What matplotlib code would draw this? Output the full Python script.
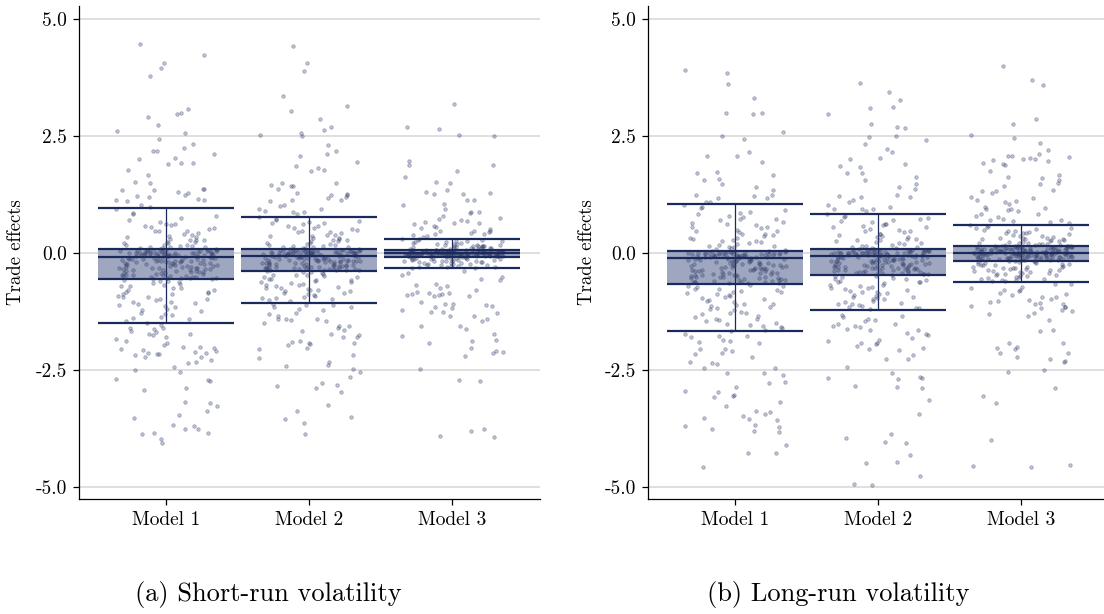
import numpy as np
import matplotlib
matplotlib.use('Agg')
import matplotlib.pyplot as plt
from matplotlib.ticker import FormatStrFormatter

# computer-modern look, hyphen minus like the original
plt.rcParams['font.family'] = 'serif'
plt.rcParams['font.serif'] = ['cmr10', 'DejaVu Serif']
plt.rcParams['axes.unicode_minus'] = False

# ---------------- data ----------------
models = ['Model 1', 'Model 2', 'Model 3']
captions = ['(a) Short-run volatility', '(b) Long-run volatility']
y_label = 'Trade effects'
y_ticks = [-5.0, -2.5, 0.0, 2.5, 5.0]

# summary lines: lower cap, box bottom, median, box top, upper cap
short_whisk_lo = [-1.50, -1.06, -0.32]
short_box_lo = [-0.56, -0.38, -0.08]
short_median = [-0.08, -0.06, -0.01]
short_box_hi = [0.08, 0.09, 0.06]
short_whisk_hi = [0.97, 0.78, 0.30]

long_whisk_lo = [-1.67, -1.22, -0.61]
long_box_lo = [-0.66, -0.46, -0.17]
long_median = [-0.10, -0.07, 0.01]
long_box_hi = [0.05, 0.08, 0.16]
long_whisk_hi = [1.05, 0.84, 0.60]

# individual trade effects (estimated)
short_m1 = [
    0.94, 0.86, 0.83, 0.79, 0.74, 0.70, 0.67, 0.62, 0.59, 0.55, 0.53, 0.48, 0.46, 0.42, 0.39, 0.37,
    0.34, 0.30, 0.28, 0.27, 0.24, 0.22, 0.21, 0.18, 0.17, 0.15, 0.14, 0.13, 0.12, 0.10, 0.09, 0.11,
    0.07, 0.08, 0.06, 0.05, 0.06, 0.04, 0.03, 0.02, 0.03, 0.01, 0.02, 0.00, 0.01, -0.01, 0.00, -0.02,
    -0.01, -0.03, -0.02, -0.04, -0.03, -0.05, -0.04, -0.06, -0.05, -0.07, -0.06, -0.07, 0.04, -0.02, 0.05, -0.04,
    -0.09, -0.10, -0.12, -0.11, -0.14, -0.13, -0.16, -0.17, -0.19, -0.18, -0.21, -0.23, -0.24, -0.26, -0.28, -0.30,
    -0.31, -0.33, -0.35, -0.36, -0.38, -0.41, -0.42, -0.44, -0.46, -0.47, -0.49, -0.51, -0.52, -0.54, -0.55, -0.53,
    -0.15, -0.22, -0.58, -0.60, -0.63, -0.67, -0.69, -0.71, -0.75, -0.78, -0.80, -0.84, -0.86, -0.88, -0.92, -0.94,
    -0.98, -1.00, -1.04, -1.06, -1.10, -1.13, -1.15, -1.19, -1.22, -1.24, -1.28, -1.30, -1.33, -1.37, -1.39, -1.42,
    -1.46, -1.49,
    0.07, 0.05, 0.04, 0.01, -0.01, -0.02, -0.05, -0.07, -0.08, -0.11, -0.12, -0.15, -0.18, -0.19, -0.21, -0.24,
    -0.25, -0.27, -0.30, -0.31, -0.33, -0.36, -0.37, -0.40, -0.41, -0.43, -0.46, -0.48, -0.49, -0.52, -0.53, -0.55,
    0.06, 0.03, -0.03, -0.06, -0.10, -0.14, -0.17, -0.22, -0.26, -0.29, -0.34, -0.38, -0.42, -0.45, -0.50, -0.54,
    0.04, 0.00, -0.04, -0.09, -0.13, -0.16, -0.20, -0.23, -0.28, -0.32, -0.35, -0.39, 0.13, 0.17, 0.24, 0.28,
    0.35, 0.40, 0.47, 0.51, 0.58, 0.63, -0.59, -0.64, -0.71, -0.75, -0.83, -0.87, -0.93, -0.98, -1.05, -1.11,
    3.78, 4.07, 3.95, 4.47, 4.24, 2.91, 2.96, 3.08, 2.99, 2.73, 2.61, 2.44, 2.56, 2.34, 2.24, 2.17,
    2.12, 2.19, 2.02, 1.92, 1.91, 2.01, 1.93, 1.77, 1.66, 1.50, 1.52, 1.37, 1.34, 1.28, 1.13, 1.36,
    1.25, 1.20, 1.16, 1.12, 1.03, 1.22, 1.14, 1.30, 1.35, 0.99,
    -1.54, -1.63, -1.61, -1.72, -1.66, -1.68, -1.60, -1.75, -1.88, -2.00, -2.05, -2.07, -2.14, -2.17, -2.13, -2.16,
    -2.11, -2.04, -2.09, -2.01, -1.93, -1.84, -1.72, -1.79, -1.96, -2.23, -2.29, -2.15, -2.34, -2.22, -2.32, -2.43,
    -2.51, -2.54, -2.71, -2.70, -2.74, -2.89, -2.93, -3.18, -3.21, -3.26, -3.37, -3.46, -3.53, -3.67, -3.70, -3.75,
    -3.76, -3.85, -3.84, -3.87, -3.98, -4.05,
]
short_m2 = [
    0.77, 0.73, 0.71, 0.68, 0.65, 0.64, 0.61, 0.57, 0.54, 0.53, 0.49, 0.46, 0.44, 0.43, 0.39, 0.37,
    0.36, 0.32, 0.30, 0.28, 0.26, 0.25, 0.22, 0.20, 0.19, 0.17, 0.16, 0.14, 0.13, 0.12, 0.11, 0.10,
    0.08, 0.09, 0.07, 0.06, 0.07, 0.05, 0.06, 0.04, 0.03, 0.04, 0.02, 0.03, 0.01, 0.02, 0.00, 0.01,
    -0.00, -0.01, -0.02, -0.01, -0.03, -0.02, -0.04, -0.03, -0.05, -0.04, -0.05, -0.06, 0.05, 0.01, -0.03, 0.07,
    -0.01, 0.02, -0.07, -0.08, -0.09, -0.08, -0.10, -0.11, -0.12, -0.13, -0.15, -0.14, -0.16, -0.18, -0.17, -0.19,
    -0.21, -0.20, -0.22, -0.24, -0.23, -0.25, -0.27, -0.28, -0.29, -0.30, -0.32, -0.31, -0.33, -0.35, -0.34, -0.36,
    -0.37, -0.11, -0.39, -0.40, -0.43, -0.44, -0.47, -0.48, -0.50, -0.52, -0.55, -0.56, -0.58, -0.60, -0.62, -0.65,
    -0.66, -0.68, -0.70, -0.73, -0.74, -0.76, -0.79, -0.80, -0.82, -0.85, -0.86, -0.88, -0.91, -0.93, -0.96, -0.98,
    -1.01, -1.03,
    0.08, 0.06, 0.05, 0.03, 0.02, 0.00, -0.01, -0.03, -0.04, -0.06, -0.07, -0.09, -0.10, -0.12, -0.13, -0.15,
    -0.16, -0.18, -0.19, -0.21, -0.22, -0.24, -0.25, -0.27, -0.28, -0.30, -0.31, -0.33, -0.34, -0.36, -0.37, 0.07,
    0.04, 0.01, -0.02, -0.05, -0.08, -0.11, -0.14, -0.17, -0.20, -0.23, -0.26, -0.29, -0.32, -0.35, 0.05, 0.02,
    -0.01, -0.04, -0.07, -0.12, -0.18, -0.24, -0.30, -0.36, 0.03, -0.06, -0.15, -0.27, 0.12, 0.18, 0.22, 0.27,
    0.33, 0.38, 0.45, 0.51, 0.58, 0.66, -0.41, -0.46, -0.52, -0.57, -0.63, -0.69, -0.75, -0.82, -0.89, -0.97,
    4.43, 4.05, 3.89, 3.36, 3.14, 3.03, 2.86, 2.69, 2.63, 2.56, 2.52, 2.51, 2.30, 2.19, 2.11, 2.07,
    1.94, 1.86, 1.82, 1.77, 1.76, 1.50, 1.49, 1.46, 1.44, 1.43, 1.37, 1.27, 1.28, 1.25, 1.23, 1.20,
    1.18, 1.14, 1.13, 1.11, 1.02, 1.00, 0.95, 0.93, 0.90, 0.88, 0.87, 0.84,
    -1.08, -1.12, -1.15, -1.20, -1.11, -1.29, -1.31, -1.45, -1.49, -1.40, -1.43, -1.41, -1.55, -1.66, -1.61, -1.79,
    -1.75, -1.80, -1.95, -2.05, -1.91, -1.93, -2.04, -1.97, -1.92, -1.88, -1.74, -1.65, -1.57, -1.42, -1.35, -1.22,
    -1.15, -2.25, -2.17, -2.32, -2.41, -2.40, -2.47, -2.54, -2.64, -2.77, -2.84, -2.89, -2.83, -2.98, -3.25, -3.38,
    -3.51, -3.54, -3.63, -3.87,
]
short_m3 = [
    0.30, 0.29, 0.28, 0.26, 0.25, 0.24, 0.23, 0.22, 0.20, 0.19, 0.18, 0.17, 0.16, 0.16, 0.15, 0.14,
    0.13, 0.12, 0.12, 0.11, 0.10, 0.10, 0.09, 0.09, 0.08, 0.08, 0.07, 0.07,
    0.06, 0.06, 0.05, 0.05, 0.05, 0.04, 0.04, 0.04, 0.03, 0.03, 0.03, 0.03, 0.02, 0.02, 0.02, 0.02,
    0.01, 0.01, 0.01, 0.01, 0.00, 0.00, 0.00, 0.00, 0.00, -0.00, -0.01, -0.01, -0.01, -0.01, -0.01, -0.02,
    -0.02, -0.02, -0.02, -0.03, -0.03, -0.03, -0.03, -0.04, -0.04, -0.04, -0.05, -0.05, -0.05, -0.06, -0.06, -0.06,
    -0.07, -0.07, -0.07, 0.05, 0.03, 0.01, -0.02, -0.04, 0.02, 0.00, -0.01, -0.03, 0.04, -0.05, 0.01, -0.00,
    0.03, -0.02, -0.06, 0.02, -0.03, 0.00,
    -0.08, -0.09, -0.09, -0.10, -0.10, -0.11, -0.12, -0.12, -0.13, -0.14, -0.14, -0.15, -0.16, -0.17, -0.17, -0.18,
    -0.19, -0.20, -0.21, -0.21, -0.22, -0.23, -0.24, -0.25, -0.26, -0.27, -0.28, -0.29, -0.30, -0.31, -0.32, -0.11,
    0.06, 0.05, 0.05, 0.04, 0.04, 0.03, 0.03, 0.02, 0.02, 0.01, 0.01, 0.00, 0.00, -0.01, -0.01, -0.02,
    -0.02, -0.03, -0.03, -0.04, -0.04, -0.05, -0.05, -0.06, -0.06, -0.07, -0.07, 0.05, 0.03, 0.01, -0.01, -0.03,
    -0.05, -0.07, 0.04, 0.02, 0.00, -0.02, -0.04, -0.06, 0.06, 0.01, -0.03, -0.08, 0.03, -0.01, -0.05, 0.02,
    -0.02, -0.06, 0.09, 0.11, 0.14, 0.17, 0.19, 0.22, 0.25, 0.28, 0.10, 0.15, -0.10, -0.12, -0.15, -0.18,
    -0.20, -0.23, -0.26, -0.29, -0.13, -0.17,
    3.19, 2.66, 2.69, 2.53, 2.51, 1.97, 1.89, 1.87, 1.75, 1.62, 1.51, 1.50, 1.34, 1.30, 1.29, 1.27,
    1.26, 1.14, 1.13, 1.04, 1.02, 0.95, 0.88, 0.87, 0.86, 0.80, 0.75, 0.72, 0.70, 0.68, 0.65, 0.66,
    0.64, 0.61, 0.58, 0.56, 0.53, 0.52, 0.48, 0.47, 0.46, 0.44, 0.43, 0.41, 0.40, 0.38, 0.36, 0.34,
    -0.46, -0.38, -0.43, -0.66, -0.71, -0.74, -0.69, -0.78, -0.83, -0.87, -0.86, -0.90, -0.88, -0.91, -0.89, -0.85,
    -0.92, -1.05, -1.14, -1.10, -0.55, -0.58, -0.51, -1.11, -1.08, -1.22, -1.15, -1.18, -1.34, -1.27, -1.29, -1.25,
    -1.35, -1.41, -1.45, -1.57, -1.55, -1.63, -1.74, -1.77, -1.86, -1.89, -1.93, -2.04, -2.09, -2.12, -2.14, -2.19,
    -2.47, -2.72, -2.74, -3.75, -3.80, -3.90, -3.94,
]
long_m1 = [
    1.03, 0.99, 0.96, 0.91, 0.88, 0.84, 0.80, 0.77, 0.72, 0.70, 0.66, 0.63, 0.59, 0.56, 0.54, 0.50,
    0.47, 0.44, 0.41, 0.39, 0.36, 0.33, 0.30, 0.28, 0.25, 0.23, 0.21, 0.18, 0.16, 0.14, 0.12, 0.10,
    0.08, 0.07,
    0.05, 0.04, 0.04, 0.03, 0.02, 0.02, 0.01, 0.00, 0.00, -0.01, -0.01, -0.02, -0.03, -0.03, -0.04, -0.04,
    -0.05, -0.05, -0.06, -0.06, -0.07, -0.07, -0.08, -0.08, -0.09, -0.09, 0.03, -0.02, 0.01, -0.05, -0.03, -0.07,
    -0.11, -0.12, -0.14, -0.15, -0.17, -0.18, -0.20, -0.21, -0.23, -0.24, -0.26, -0.28, -0.29, -0.31, -0.32, -0.34,
    -0.36, -0.37, -0.39, -0.41, -0.42, -0.44, -0.46, -0.47, -0.49, -0.51, -0.52, -0.54, -0.56, -0.57, -0.59, -0.61,
    -0.62, -0.64, -0.65, -0.13, -0.25, -0.38,
    -0.68, -0.71, -0.73, -0.76, -0.79, -0.82, -0.85, -0.87, -0.90, -0.93, -0.96, -0.99, -1.02, -1.05, -1.08, -1.11,
    -1.13, -1.16, -1.19, -1.22, -1.25, -1.28, -1.31, -1.34, -1.37, -1.40, -1.43, -1.46, -1.49, -1.52, -1.55, -1.58,
    -1.61, -1.64, -1.66, -0.83,
    0.04, 0.02, 0.01, -0.01, -0.03, -0.05, -0.06, -0.08, -0.10, -0.12, -0.14, -0.17, -0.19, -0.21, -0.23, -0.26,
    -0.28, -0.30, -0.33, -0.35, -0.37, -0.40, -0.42, -0.44, -0.47, -0.49, -0.51, -0.54, -0.56, -0.58, -0.61, -0.63,
    -0.65, 0.03, -0.02, -0.07, -0.11, -0.16, -0.20, -0.25, -0.29, -0.34, -0.38, -0.43, -0.48, -0.52, -0.57, -0.62,
    0.00, -0.04, -0.09, -0.13, -0.18, -0.24, -0.31, -0.36, -0.45, -0.53, -0.60, 0.12, 0.19, 0.26, 0.33, 0.41,
    0.48, 0.56, 0.64, 0.73, 0.85, -0.70, -0.77, -0.84, -0.91, -1.00, -1.09, -1.18, -1.29, -1.40, -1.53,
    3.85, 3.90, 3.62, 3.31, 3.00, 2.96, 2.99, 2.59, 2.49, 2.44, 2.16, 2.07, 2.08, 1.94, 1.72, 1.73,
    1.59, 1.55, 1.67, 1.48, 1.41, 1.35, 1.23, 1.22, 1.18, 1.17, 1.25, 1.08, 1.09,
    -1.72, -1.77, -1.80, -1.78, -1.89, -1.85, -1.90, -1.93, -2.05, -2.06, -2.10, -2.13, -2.16, -2.23, -2.33, -2.34,
    -2.37, -2.46, -2.45, -2.56, -2.57, -2.61, -2.75, -2.78, -2.87, -2.94, -2.98, -3.03, -3.05, -3.08, -3.18, -3.27,
    -3.37, -3.39, -3.43, -3.48, -3.52, -3.54, -3.57, -3.69, -3.71, -3.68, -3.75, -3.81, -3.82, -4.10, -4.27, -4.28,
    -4.58,
]
long_m2 = [
    0.83, 0.80, 0.77, 0.74, 0.71, 0.69, 0.66, 0.63, 0.60, 0.57, 0.55, 0.52, 0.49, 0.46, 0.44, 0.41,
    0.39, 0.36, 0.34, 0.31, 0.29, 0.27, 0.25, 0.23, 0.21, 0.19, 0.17, 0.15, 0.13, 0.12, 0.10, 0.09,
    0.08, 0.07, 0.07, 0.06, 0.05, 0.05, 0.04, 0.03, 0.03, 0.02, 0.01, 0.01, 0.00, -0.00, -0.01, -0.02,
    -0.02, -0.03, -0.03, -0.04, -0.05, -0.05, -0.06, -0.06, 0.06, 0.02, -0.01, 0.04, -0.04, 0.00, -0.02, 0.03,
    -0.05, 0.01,
    -0.08, -0.09, -0.10, -0.11, -0.12, -0.14, -0.15, -0.16, -0.17, -0.19, -0.20, -0.21, -0.23, -0.24, -0.25, -0.26,
    -0.28, -0.29, -0.30, -0.32, -0.33, -0.34, -0.36, -0.37, -0.38, -0.40, -0.41, -0.42, -0.44, -0.45, -0.09, -0.13,
    -0.18, -0.22, -0.27,
    -0.48, -0.50, -0.52, -0.54, -0.57, -0.59, -0.61, -0.63, -0.65, -0.68, -0.70, -0.72, -0.74, -0.77, -0.79, -0.81,
    -0.83, -0.86, -0.88, -0.90, -0.93, -0.95, -0.97, -0.99, -1.02, -1.04, -1.06, -1.09, -1.11, -1.13, -1.16, -1.18,
    -1.20, -0.55,
    0.07, 0.06, 0.04, 0.03, 0.01, -0.00, -0.02, -0.04, -0.05, -0.07, -0.09, -0.10, -0.12, -0.14, -0.16, -0.18,
    -0.19, -0.21, -0.23, -0.25, -0.27, -0.29, -0.31, -0.33, -0.35, -0.37, -0.39, -0.41, -0.43, -0.45, 0.05, 0.02,
    -0.01, -0.03, -0.06, -0.08, -0.11, -0.15, -0.20, -0.24, -0.28, -0.32, -0.36, -0.40, -0.44, 0.06, 0.00, -0.04,
    -0.13, -0.17, -0.22, -0.26, -0.30, -0.34, -0.38, -0.42, 0.03, -0.06, -0.11, -0.31, 0.11, 0.16, 0.21, 0.27,
    0.34, 0.40, 0.47, 0.55, 0.63, 0.72, -0.49, -0.55, -0.62, -0.68, -0.75, -0.83, -0.91, -0.99, -1.08, -1.17,
    3.63, 3.43, 3.28, 3.12, 3.10, 2.98, 2.75, 2.70, 2.68, 2.49, 2.48, 2.42, 2.32, 2.23, 2.15, 2.02,
    2.01, 1.91, 1.85, 1.84, 1.72, 1.70, 1.62, 1.55, 1.41, 1.48, 1.36, 1.25, 1.20, 1.19, 1.21, 1.13,
    1.08, 1.03, 0.98, 0.94, 0.95, 0.93, 0.90,
    -1.32, -1.34, -1.36, -1.40, -1.43, -1.45, -1.52, -1.51, -1.56, -1.57, -1.59, -1.63, -1.65, -1.64, -1.70, -1.74,
    -1.75, -1.81, -1.86, -1.88, -1.93, -1.92, -1.95, -1.98, -2.02, -2.05, -2.07, -2.18, -2.26, -2.27, -2.44, -2.57,
    -2.64, -2.66, -2.68, -2.70, -2.84, -2.86, -2.89, -3.14, -3.45, -3.87, -3.96, -4.03, -4.05, -4.31, -4.47, -4.49,
    -4.76, -4.94, -4.96,
]
long_m3 = [
    0.59, 0.57, 0.55, 0.53, 0.51, 0.49, 0.47, 0.45, 0.43, 0.42, 0.40, 0.38, 0.36, 0.35, 0.33, 0.32,
    0.30, 0.29, 0.27, 0.26, 0.25, 0.24, 0.22, 0.21, 0.20, 0.19, 0.18, 0.17, 0.17, 0.16,
    0.15, 0.15, 0.14, 0.14, 0.13, 0.13, 0.12, 0.12, 0.11, 0.11, 0.10, 0.10, 0.09, 0.09, 0.08, 0.08,
    0.07, 0.07, 0.06, 0.06, 0.05, 0.05, 0.04, 0.04, 0.03, 0.03, 0.02, 0.02, 0.01, 0.01, 0.00, 0.00,
    -0.01, -0.01, -0.02, -0.02, -0.03, -0.03, -0.04, -0.04, -0.05, -0.05, -0.06, -0.06, -0.07, -0.07, -0.08, -0.08,
    -0.09, -0.10, -0.10, -0.11, -0.12, -0.13, -0.14, -0.15, -0.16, 0.02, 0.05, -0.02, 0.08, -0.04, 0.11, 0.00,
    0.03, -0.06, 0.06, -0.09, 0.01, -0.03,
    -0.18, -0.19, -0.20, -0.21, -0.22, -0.24, -0.25, -0.26, -0.28, -0.29, -0.30, -0.32, -0.33, -0.34, -0.36, -0.37,
    -0.38, -0.40, -0.41, -0.43, -0.44, -0.46, -0.47, -0.49, -0.50, -0.52, -0.53, -0.55, -0.56, -0.58, -0.59, -0.60,
    -0.23, -0.31, -0.42,
    0.15, 0.14, 0.13, 0.12, 0.11, 0.10, 0.09, 0.08, 0.07, 0.06, 0.05, 0.04, 0.03, 0.02, 0.01, 0.00,
    -0.01, -0.02, -0.03, -0.04, -0.05, -0.06, -0.07, -0.08, -0.09, -0.10, -0.11, -0.12, -0.13, -0.14, -0.15, -0.16,
    0.13, 0.10, 0.07, 0.04, 0.01, -0.02, -0.05, -0.08, -0.11, -0.14, 0.12, 0.05, -0.01, -0.07, -0.13, 0.09,
    0.02, -0.04, -0.10, 0.06, -0.03, -0.09, 0.00, -0.06, 0.08, -0.12, 0.03, -0.15, 0.19, 0.23, 0.27, 0.32,
    0.37, 0.42, 0.48, 0.54, 0.21, 0.30, -0.20, -0.24, -0.29, -0.34, -0.39, -0.45, -0.51, -0.57, -0.26, -0.36,
    4.00, 3.69, 3.60, 2.86, 2.76, 2.52, 2.46, 2.36, 2.21, 2.12, 2.07, 2.06, 2.08, 2.04, 2.01, 2.00,
    1.99, 1.96, 1.93, 1.91, 1.88, 1.75, 1.67, 1.62, 1.61, 1.55, 1.50, 1.48, 1.44, 1.34, 1.32, 1.33,
    1.29, 1.20, 1.18, 1.13, 1.10, 1.11, 1.04, 0.98, 0.97, 0.95, 0.93, 0.90, 0.91, 0.84, 0.83, 0.80,
    0.77, 0.73, 0.71, 0.70, 0.68, 0.66, 0.64,
    -0.66, -0.67, -0.73, -0.74, -0.78, -0.80, -0.81, -0.85, -0.87, -0.90, -0.94, -0.95, -0.98, -1.01, -1.05, -1.08,
    -1.10, -1.14, -1.15, -1.17, -1.03, -1.06, -1.16, -1.24, -1.22, -1.29, -1.31, -1.35, -1.43, -1.65, -1.67, -1.92,
    -1.93, -2.02, -2.06, -2.01, -2.13, -2.14, -2.23, -2.27, -2.31, -2.33, -2.49, -2.55, -2.88, -3.05, -3.21, -3.99,
    -4.54, -4.57, -4.55,
]

# ---------------- style ----------------
navy = '#1b2a5c'
box_fill = '#9ea7bf'
grid_col = '#d6d6d6'
dot_face = (0.20, 0.24, 0.42, 0.30)
dot_edge = (0.20, 0.24, 0.42, 0.42)
half_w = 0.475   # half width of summary box
jit = 0.355      # half width of the jitter cloud

panels = [
    dict(vals=[short_m1, short_m2, short_m3], lo=short_whisk_lo, blo=short_box_lo,
         med=short_median, bhi=short_box_hi, hi=short_whisk_hi),
    dict(vals=[long_m1, long_m2, long_m3], lo=long_whisk_lo, blo=long_box_lo,
         med=long_median, bhi=long_box_hi, hi=long_whisk_hi),
]

fig = plt.figure(figsize=(11.04, 6.14), dpi=100)
lefts = [78.7 / 1104, 647.6 / 1104]
caption_x = [268 / 1104, 838 / 1104]
label_x = [-0.116, -0.112]

for k, p in enumerate(panels):
    ax = fig.add_axes([lefts[k], 1 - 499 / 614, 461.3 / 1104, 493 / 614])
    for i in range(3):
        ax.fill_between([i - half_w, i + half_w], p['blo'][i], p['bhi'][i],
                        color=box_fill, lw=0, zorder=1)
        ax.vlines(i, p['lo'][i], p['hi'][i], color=navy, lw=0.9, zorder=2)

        y = np.array(p['vals'][i])
        j = np.arange(len(y))
        # deterministic spread of the points around the category
        frac = (j * j * 0.41421356 + j * 0.7548777) % 1.0
        x = i + jit * (2 * frac - 1)
        ax.scatter(x, y, s=6.5, facecolors=dot_face, edgecolors=dot_edge,
                   linewidths=0.5, zorder=3)

        ax.hlines([p['lo'][i], p['blo'][i], p['med'][i], p['bhi'][i], p['hi'][i]],
                  i - half_w, i + half_w, color=navy, lw=1.6, zorder=4)

    ax.set_xlim(-0.613, 2.613)
    ax.set_ylim(-5.256, 5.278)
    ax.set_xticks(range(3))
    ax.set_xticklabels(models)
    ax.set_yticks(y_ticks)
    ax.yaxis.set_major_formatter(FormatStrFormatter('%.1f'))
    ax.yaxis.grid(True, color=grid_col, lw=1.1)
    ax.set_axisbelow(True)
    for side in ['top', 'right']:
        ax.spines[side].set_visible(False)
    for side in ['left', 'bottom']:
        ax.spines[side].set_linewidth(0.9)
    ax.tick_params(direction='out', length=4.5, width=0.9, labelsize=14, pad=4)
    ax.set_ylabel(y_label, fontsize=13.5)
    ax.yaxis.set_label_coords(label_x[k], 0.5)

    fig.text(caption_x[k], 1 - 594 / 614, captions[k], ha='center', va='center', fontsize=19)

fig.savefig('out.png', dpi=100)
